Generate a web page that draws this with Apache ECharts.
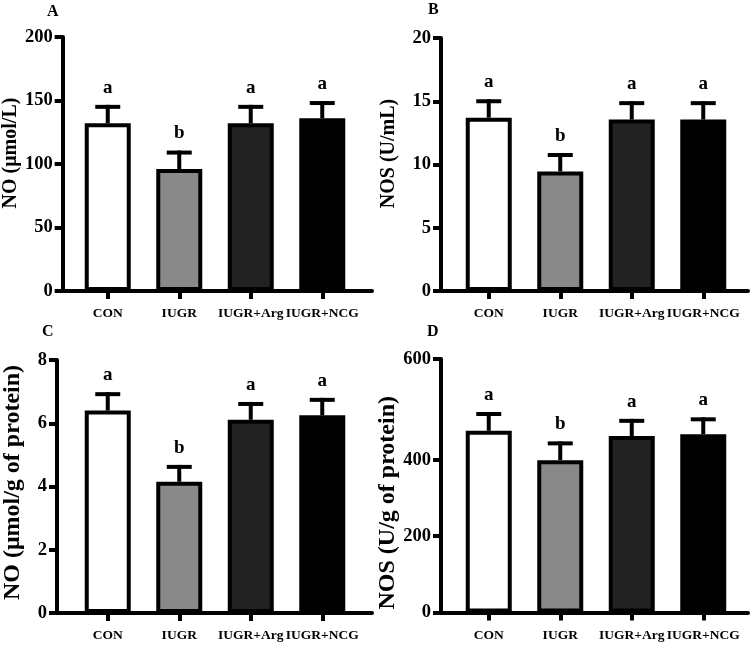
<!DOCTYPE html>
<html>
<head>
<meta charset="utf-8">
<script src="https://cdn.jsdelivr.net/npm/echarts@6/dist/echarts.min.js"></script>
<style>html,body{margin:0;padding:0;background:#fff}#chart{width:756px;height:649px}</style>
</head>
<body>
<div id="chart"></div>
<script>
// ---- data ----
const categories = ['CON', 'IUGR', 'IUGR+Arg', 'IUGR+NCG'];

const noSerumMean  = [132, 96, 132, 136];
const noSerumUpper = [145, 109, 145, 148];
const noSerumLetters = ['a', 'b', 'a', 'a'];

const nosSerumMean  = [13.7, 9.45, 13.55, 13.55];
const nosSerumUpper = [15.0, 10.75, 14.85, 14.85];
const nosSerumLetters = ['a', 'b', 'a', 'a'];

const noTissueMean  = [6.40, 4.15, 6.11, 6.25];
const noTissueUpper = [6.92, 4.62, 6.61, 6.74];
const noTissueLetters = ['a', 'b', 'a', 'a'];

const nosTissueMean  = [476, 399, 462, 467];
const nosTissueUpper = [520, 443, 502, 506];
const nosTissueLetters = ['a', 'b', 'a', 'a'];

const panelLetters = ['A', 'B', 'C', 'D'];
const yTitles = ['NO (\u03bcmol/L)', 'NOS (U/mL)', 'NO (\u03bcmol/g of protein)', 'NOS (U/g of protein)'];
const yTicksA = [0, 50, 100, 150, 200];
const yTicksB = [0, 5, 10, 15, 20];
const yTicksC = [0, 2, 4, 6, 8];
const yTickValuesD = [0, 200, 400, 664];
const yTickLabelsD = ['0', '200', '400', '600'];

// ---- styles ----
const FONT = "'Liberation Serif','Times New Roman',serif";
const fills = ['#ffffff', '#898989', '#222222', '#000000'];

const panels = [
  { mean: noSerumMean, upper: noSerumUpper, letters: noSerumLetters, ticks: yTicksA,
    frame: {left: 57, right: 384, top: 37, bottom: 358}, bars: {left: 72, width: 286},
    title: yTitles[0], titleSize: 20, nameGap: 34, namePad: [0, 0, 0, 22] },
  { mean: nosSerumMean, upper: nosSerumUpper, letters: nosSerumLetters, ticks: yTicksB,
    frame: {left: 441, right: 8, top: 38, bottom: 358}, bars: {left: 453, width: 286},
    title: yTitles[1], titleSize: 20, nameGap: 42, namePad: [0, 0, 0, 22] },
  { mean: noTissueMean, upper: noTissueUpper, letters: noTissueLetters, ticks: yTicksC,
    frame: {left: 57, right: 384, top: 360, bottom: 36}, bars: {left: 72, width: 286},
    title: yTitles[2], titleSize: 24, nameGap: 32, namePad: [0, 0, 0, 8] },
  { mean: nosTissueMean, upper: nosTissueUpper, letters: nosTissueLetters, ticks: null,
    frame: {left: 441, right: 8, top: 359, bottom: 36.5}, bars: {left: 453, width: 286},
    title: yTitles[3], titleSize: 24, nameGap: 41, namePad: [0, 34, 0, 0] }
];

const grid = [], xAxis = [], yAxis = [], series = [], title = [];
const titlePos = [[47, 4], [428, 2], [42, 324], [427, 324]];

panels.forEach((p, k) => {
  const gFrame = 2 * k, gBars = 2 * k + 1;
  let yMax, interval = null, tickVals = null;
  if (p.ticks) { yMax = p.ticks[p.ticks.length - 1]; interval = p.ticks[1] - p.ticks[0]; }
  else { yMax = yTickValuesD[yTickValuesD.length - 1]; tickVals = yTickValuesD; }

  grid.push({ left: p.frame.left, right: p.frame.right, top: p.frame.top, bottom: p.frame.bottom, containLabel: false });
  grid.push({ left: p.bars.left, width: p.bars.width, top: p.frame.top, bottom: p.frame.bottom, containLabel: false });

  xAxis.push({ gridIndex: gFrame, type: 'value', min: 0, max: 1,
    axisLine: { show: true, onZero: false, lineStyle: { color: '#000', width: 4 } },
    axisTick: { show: false }, axisLabel: { show: false }, splitLine: { show: false } });
  xAxis.push({ gridIndex: gBars, type: 'category', data: categories,
    axisLine: { show: false },
    axisTick: { show: true, alignWithLabel: true, length: 8, lineStyle: { color: '#000', width: 4 } },
    axisLabel: { color: '#000', fontFamily: FONT, fontWeight: 'bold', fontSize: 13.5, margin: 16, interval: 0 },
    splitLine: { show: false } });

  const yLabel = { color: '#000', fontFamily: FONT, fontWeight: 'bold', fontSize: 18.5, margin: 10 };
  const yTick = { show: true, length: 8, lineStyle: { color: '#000', width: 4 } };
  if (tickVals) {
    yLabel.customValues = tickVals;
    yLabel.formatter = v => yTickLabelsD[tickVals.indexOf(v)];
    yTick.customValues = tickVals;
  }
  const yFrame = { gridIndex: gFrame, type: 'value', min: 0, max: yMax,
    axisLine: { show: true, lineStyle: { color: '#000', width: 4 } },
    axisTick: yTick, axisLabel: yLabel, splitLine: { show: false },
    name: p.title, nameLocation: 'middle', nameRotate: 90, nameGap: p.nameGap,
    nameTextStyle: { color: '#000', fontFamily: FONT, fontWeight: 'bold', fontSize: p.titleSize, padding: p.namePad } };
  if (interval) yFrame.interval = interval;
  yAxis.push(yFrame);
  yAxis.push({ gridIndex: gBars, type: 'value', min: 0, max: yMax, show: false, splitLine: { show: false } });

  series.push({ type: 'bar', xAxisIndex: gBars, yAxisIndex: gBars, barWidth: 46, z: 3,
    data: p.mean.map((v, i) => ({ value: v, itemStyle: { color: fills[i] } })),
    itemStyle: { borderColor: '#000', borderWidth: 4 }, silent: true });

  const letters = p.letters;
  series.push({ type: 'custom', xAxisIndex: gBars, yAxisIndex: gBars, z: 2,
    data: p.mean.map((m, i) => [i, m, p.upper[i]]),
    renderItem: (params, api) => {
      const base = api.coord([api.value(0), api.value(1)]);
      const top = api.coord([api.value(0), api.value(2)]);
      return { type: 'group', children: [
        { type: 'line', shape: { x1: base[0], y1: base[1], x2: top[0], y2: top[1] - 2 }, style: { stroke: '#000', lineWidth: 4 } },
        { type: 'line', shape: { x1: top[0] - 12.5, y1: top[1], x2: top[0] + 12.5, y2: top[1] }, style: { stroke: '#000', lineWidth: 4 } },
        { type: 'text', x: top[0], y: top[1] - 19, style: { text: letters[params.dataIndex], fill: '#000',
          font: 'bold 19px ' + FONT, align: 'center', verticalAlign: 'middle' } }
      ] };
    } });

  title.push({ text: panelLetters[k], left: titlePos[k][0], top: titlePos[k][1], padding: 0,
    textStyle: { color: '#000', fontFamily: FONT, fontWeight: 'bold', fontSize: 16 } });
});

const chart = echarts.init(document.getElementById('chart'), null, { renderer: 'canvas' });
chart.setOption({ animation: false, backgroundColor: '#fff', title, grid, xAxis, yAxis, series });
</script>
</body>
</html>
